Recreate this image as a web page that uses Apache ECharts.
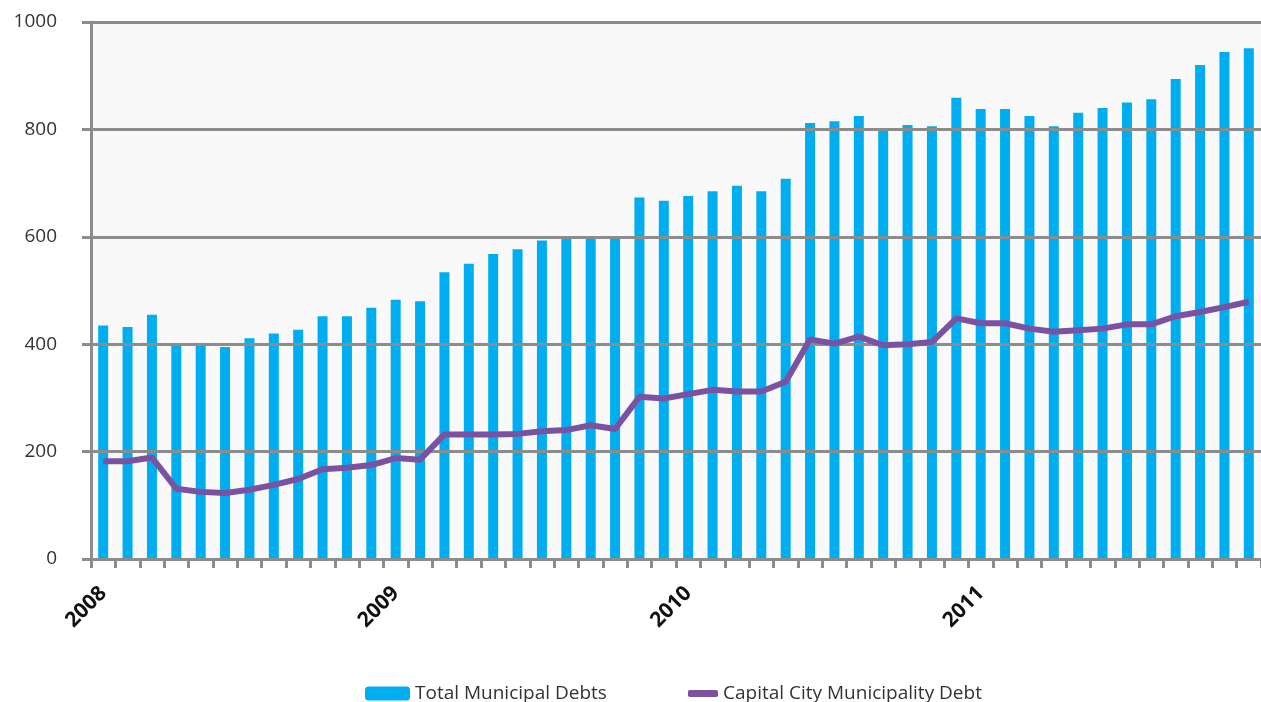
<!DOCTYPE html>
<html>
<head>
<meta charset="utf-8">
<script src="https://cdn.jsdelivr.net/npm/echarts@6/dist/echarts.min.js"></script>
<style>
  html, body { margin: 0; padding: 0; background: #ffffff; }
  #chart { width: 1261px; height: 702px; }
</style>
</head>
<body>
<div id="chart"></div>
<script>
// Monthly categories, Jan 2008 - Dec 2011
const years = ['2008', '2009', '2010', '2011'];
const months = ['01','02','03','04','05','06','07','08','09','10','11','12'];
const categories = [];
years.forEach(y => months.forEach(m => categories.push(y + '-' + m)));

const totalMunicipalDebts = [
  435, 432, 455, 401, 401, 395, 411, 420, 427, 452, 452, 468,
  483, 480, 534, 550, 568, 577, 593, 597, 600, 600, 673, 667,
  676, 685, 695, 685, 708, 812, 815, 825, 800, 808, 806, 859,
  838, 838, 825, 806, 831, 840, 850, 856, 894, 920, 944, 951
];

const capitalCityDebt = [
  182, 182, 189, 131, 125, 123, 129, 138, 149, 167, 170, 175,
  188, 185, 232, 232, 232, 233, 238, 240, 249, 242, 302, 299,
  307, 315, 312, 312, 330, 409, 401, 414, 398, 400, 404, 448,
  439, 439, 429, 423, 426, 429, 437, 437, 452, 460, 469, 479
];

const yTicks = [0, 200, 400, 600, 800, 1000];

const seriesNames = ['Total Municipal Debts', 'Capital City Municipality Debt'];

const gridGray = '#8c8c8c';
const chart = echarts.init(document.getElementById('chart'), null, { renderer: 'canvas' });

chart.setOption({
  animation: false,
  backgroundColor: '#ffffff',
  grid: {
    left: 91, right: 0, top: 22, bottom: 143,
    show: true, backgroundColor: '#f9f9f9', borderWidth: 0
  },
  legend: [
    {
      data: [seriesNames[0]],
      left: 365, top: 684, padding: 0,
      itemWidth: 45, itemHeight: 14, itemGap: 0,
      textStyle: { fontFamily: 'Open Sans', fontSize: 19, color: '#333333' }
    },
    {
      data: [{ name: seriesNames[1], icon: 'roundRect' }],
      left: 688, top: 684, padding: 0,
      itemWidth: 30, itemHeight: 7, itemGap: 0,
      textStyle: { fontFamily: 'Open Sans', fontSize: 19, color: '#333333' }
    }
  ],
  xAxis: {
    type: 'category',
    data: categories,
    boundaryGap: true,
    axisLine: { show: true, lineStyle: { color: gridGray, width: 3 } },
    axisTick: { show: true, interval: 0, length: 9, lineStyle: { color: gridGray, width: 3 } },
    axisLabel: {
      interval: 11,
      rotate: 45,
      margin: 31,
      fontFamily: 'Open Sans',
      fontWeight: 'bold',
      fontSize: 21,
      color: '#111111',
      formatter: v => v.slice(0, 4)
    },
    splitLine: { show: false }
  },
  yAxis: {
    type: 'value',
    min: yTicks[0],
    max: yTicks[yTicks.length - 1],
    interval: yTicks[1] - yTicks[0],
    z: 3,
    axisLine: { show: true, lineStyle: { color: gridGray, width: 3 } },
    axisTick: { show: true, length: 9, lineStyle: { color: gridGray, width: 3 } },
    axisLabel: {
      margin: 34,
      fontFamily: 'Open Sans',
      fontSize: 19,
      color: '#333333',
      formatter: v => String(v)
    },
    splitLine: { show: true, lineStyle: { color: gridGray, width: 3 } }
  },
  series: [
    {
      name: seriesNames[0],
      type: 'bar',
      data: totalMunicipalDebts,
      barWidth: 10,
      itemStyle: { color: '#00aeef' },
      z: 2
    },
    {
      name: seriesNames[1],
      type: 'line',
      data: capitalCityDebt,
      symbol: 'none',
      lineStyle: { color: '#7b52a1', width: 6 },
      itemStyle: { color: '#7b52a1' },
      z: 5
    }
  ]
});
</script>
</body>
</html>
